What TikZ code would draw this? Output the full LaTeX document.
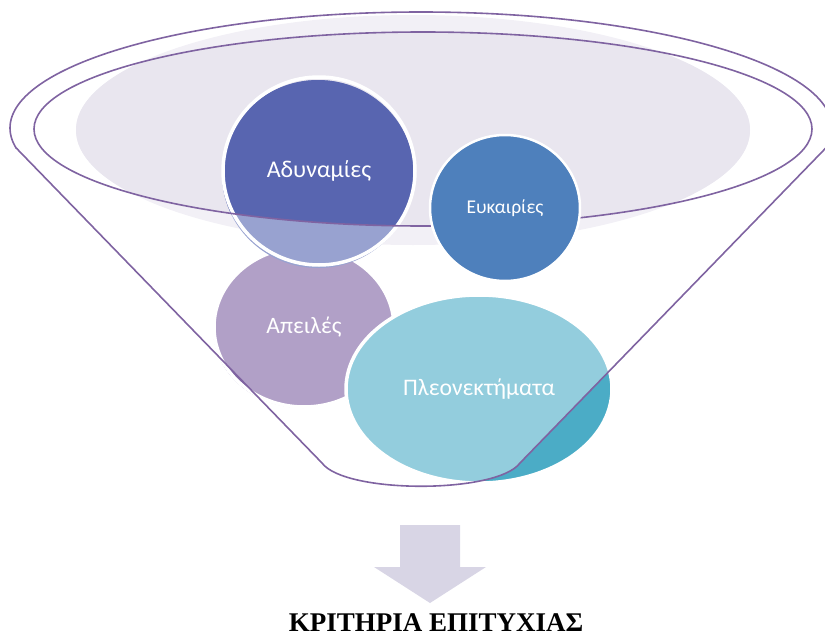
\documentclass[tikz,border=0pt]{standalone}
\usepackage{fontspec}
\usetikzlibrary{shapes.geometric}
\setmainfont{Liberation Serif}
\newfontfamily\labelfont{Carlito}
\definecolor{funnelline}{HTML}{7F63A1}
\definecolor{bowlouter}{HTML}{F2F0F6}
\definecolor{bowlinner}{HTML}{E9E6EF}
\definecolor{weakdark}{HTML}{5865B0}
\definecolor{weaklight}{HTML}{98A2D0}
\definecolor{oppfill}{HTML}{4E80BC}
\definecolor{threatlight}{HTML}{B1A0C7}
\definecolor{threatdark}{HTML}{8064A2}
\definecolor{strlight}{HTML}{93CDDD}
\definecolor{strdark}{HTML}{4BACC6}
\definecolor{arrowfill}{HTML}{D8D5E5}
\tikzset{
  blob/.style={ellipse, draw=white, line width=3.5pt, inner sep=0pt, text=white, font=\labelfont},
  rim/.style={draw=funnelline, line width=1.6pt},
}
\begin{document}
\begin{tikzpicture}[x=1pt, y=-1pt]
\useasboundingbox (0,0) rectangle (825,637);

% bowl of the funnel
\fill[bowlouter] (413,130) ellipse [x radius=337pt, y radius=115pt];
\begin{scope}
  \clip (423,129) ellipse [x radius=389pt, y radius=97pt];
  \fill[bowlinner] (413,130) ellipse [x radius=337pt, y radius=115pt];
\end{scope}

% threats
\fill[threatlight] (303,328) ellipse [x radius=90pt, y radius=80pt];
\begin{scope}
  \clip (303,328) ellipse [x radius=90pt, y radius=80pt];
  \fill[threatdark] (0,148) -- (16.2,148) -- (322,463) -- (0,463) -- cycle;
\end{scope}
\node[blob, minimum width=180pt, minimum height=160pt, font=\labelfont\fontsize{23.5}{27}\selectfont] (threats) at (304,327) {Απειλές};

% weaknesses
\fill[weaklight] (318,174) ellipse [x radius=96pt, y radius=94pt];
\begin{scope}
  \clip (423,129) ellipse [x radius=389pt, y radius=97pt];
  \fill[weakdark] (318,174) ellipse [x radius=96pt, y radius=94pt];
\end{scope}
\node[blob, minimum width=192pt, minimum height=188pt, font=\labelfont\fontsize{24}{28}\selectfont] (weak) at (319,171) {Αδυναμίες};

% inner rim of the funnel
\draw[rim] (423,129) ellipse [x radius=389pt, y radius=97pt];

% opportunities
\node[blob, fill=oppfill, line width=2.5pt, minimum width=150pt, minimum height=146pt, font=\labelfont\fontsize{19.5}{23}\selectfont] (opp) at (505,208) {Ευκαιρίες};

% strengths
\fill[strlight] (478,389) ellipse [x radius=133pt, y radius=94pt];
\begin{scope}
  \clip (478,389) ellipse [x radius=133pt, y radius=94pt];
  \fill[strdark] (322,463) .. controls (345,494) and (497,494) .. (520,463)
    -- (825.8,148) -- (840,148) -- (840,520) -- (322,520) -- cycle;
\end{scope}
\node[blob, minimum width=266pt, minimum height=188pt, font=\labelfont\fontsize{23.7}{27}\selectfont] (str) at (479,389) {Πλεονεκτήματα};

% outer outline of the funnel
\begin{scope}
  \clip (-5,-5) rectangle (840,148.3);
  \draw[rim] (421,128) ellipse [x radius=411pt, y radius=116pt];
\end{scope}
\coordinate (topleft) at (16.2,148);
\coordinate (topright) at (825.8,148);
\coordinate (spoutleft) at (322,463);
\coordinate (spoutright) at (520,463);
\draw[rim, line join=round] (topleft) -- (spoutleft)
  .. controls (345,494) and (497,494) .. (spoutright) -- (topright);

% arrow down to the result
\fill[arrowfill] (400,525) -- (460,525) -- (460,567) -- (486,567) -- (430,603)
  -- (374,567) -- (400,567) -- cycle;

\node[anchor=base, font=\bfseries\fontsize{27}{31}\selectfont, inner sep=0pt] (result) at (436,631) {ΚΡΙΤΗΡΙΑ ΕΠΙΤΥΧΙΑΣ};
\end{tikzpicture}
\end{document}
